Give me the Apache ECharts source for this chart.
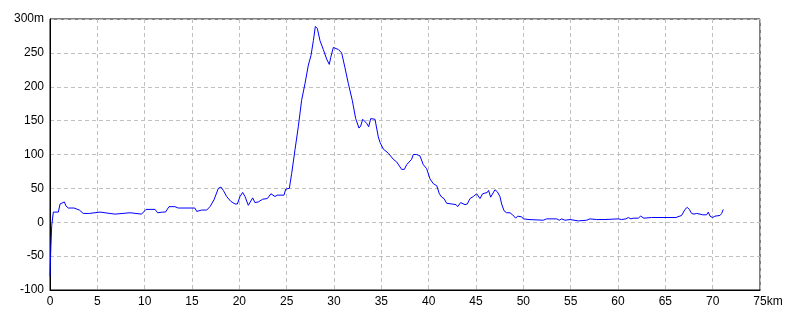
<!DOCTYPE html>
<html>
<head>
<meta charset="utf-8">
<script src="https://cdn.jsdelivr.net/npm/echarts@6/dist/echarts.min.js"></script>
<style>html,body{margin:0;padding:0;background:#fff}#c{width:800px;height:320px}</style>
</head>
<body>
<div id="c"></div>
<script>
// distance (km)
const distanceKm = [0,0.07,0.18,0.35,0.88,1.06,1.23,1.52,1.69,1.94,2.54,2.75,3.1,3.52,4.16,4.3,5.28,5.46,6.34,6.51,6.87,7.04,8.45,8.63,9.68,9.86,10.14,11.09,11.37,11.55,11.9,12.2,12.57,13.2,13.55,15.3,15.5,15.67,16.02,16.55,16.9,17.32,17.78,18.06,18.31,18.66,19.09,19.54,19.79,20.07,20.35,20.6,20.95,21.41,21.65,22.0,22.47,22.96,23.34,23.77,24.01,24.72,24.9,25.28,25.53,25.88,26.23,26.58,26.94,27.29,27.57,27.82,28.03,28.24,28.52,28.87,29.22,29.5,29.65,29.93,30.46,30.81,31.16,31.51,31.93,32.29,32.64,32.82,33.03,33.45,33.66,33.88,34.09,34.33,34.68,34.86,35.21,35.74,36.26,36.62,37.15,37.43,37.68,38.2,38.38,38.73,39.08,39.43,39.79,40.14,40.49,40.85,41.13,41.38,41.62,41.9,42.43,42.89,43.06,43.38,43.84,44.08,44.37,44.72,45.07,45.24,45.42,45.7,46.19,46.33,46.55,46.76,47.0,47.25,47.53,47.71,47.96,48.24,48.59,48.87,49.19,49.4,49.82,50.0,50.6,52.1,52.46,53.52,53.8,54.05,54.4,54.93,55.81,56.69,57.04,57.74,58.62,58.8,60.03,60.38,60.84,61.09,61.37,61.61,62.14,62.39,62.74,63.55,66.12,66.72,67.08,67.32,67.53,67.78,68.03,68.31,68.66,68.94,69.36,69.54,69.72,70.0,70.24,70.77,70.95,71.12];
// elevation (m)
const elevationM = [-80,-45,-5,15,15,27,29,30,24,21,21,19,18,13,13,15,15,13,13,12,12,14,14,12,12,14,19,19,14,13,15,15,23,23,21,21,16,15,18,18,23,33,50,52,47,38,31,27,27,38,44,38,25,36,29,30,34,35,42,38,40,40,49,50,72,107,141,180,205,232,246,268,289,286,268,255,241,233,243,258,255,250,228,205,180,153,139,142,152,146,141,153,152,152,126,118,108,102,93,89,78,78,85,93,100,100,98,85,79,64,57,54,42,37,35,28,27,26,23,29,26,27,35,38,42,42,35,42,44,47,37,38,48,45,38,27,17,14,14,11,6,9,8,5,4,3,5,5,3,5,3,4,2,3,5,4,4,5,5,4,5,7,5,6,6,9,6,7,7,10,19,22,19,13,12,13,12,11,11,15,9,7,9,10,13,19];
const xTicks = {min: 0, max: 75, step: 5, unit: 'km'};
const yTicks = {min: -100, max: 300, step: 50, unit: 'm'};

const font = '"Liberation Sans Narrow", "Liberation Sans", sans-serif';
const chart = echarts.init(document.getElementById('c'), null, {renderer: 'canvas'});
chart.setOption({
  animation: false,
  backgroundColor: '#fff',
  grid: {left: 50, top: 19, width: 710, height: 271, show: true, borderColor: '#000', borderWidth: 1, containLabel: false},
  xAxis: {
    type: 'value', min: xTicks.min, max: xTicks.max, interval: xTicks.step,
    axisLine: {show: true, onZero: false, lineStyle: {color: '#000', width: 1}},
    axisTick: {show: false},
    splitLine: {show: true, lineStyle: {color: '#c0c0c0', type: [4, 3], width: 1}},
    axisLabel: {
      color: '#000', fontFamily: font, fontSize: 12, margin: 6,
      formatter: v => v === xTicks.max ? '{u|' + v + xTicks.unit + '}' : String(v),
      rich: {u: {fontFamily: font, fontSize: 12, color: '#000', padding: [0, 0, 0, 16]}}
    }
  },
  yAxis: {
    type: 'value', min: yTicks.min, max: yTicks.max, interval: yTicks.step,
    axisLine: {show: true, onZero: false, lineStyle: {color: '#000', width: 1}},
    axisTick: {show: false},
    splitLine: {show: true, lineStyle: {color: '#c0c0c0', type: [4, 3], width: 1}},
    axisLabel: {
      color: '#000', fontFamily: font, fontSize: 12, margin: 6,
      formatter: v => v === yTicks.max ? v + yTicks.unit : String(v)
    }
  },
  series: [{
    type: 'line',
    data: distanceKm.map((d, i) => [d, elevationM[i]]),
    showSymbol: false, symbol: 'none',
    lineStyle: {color: '#0000ff', width: 1},
    itemStyle: {color: '#0000ff'}
  }]
});
</script>
</body>
</html>
